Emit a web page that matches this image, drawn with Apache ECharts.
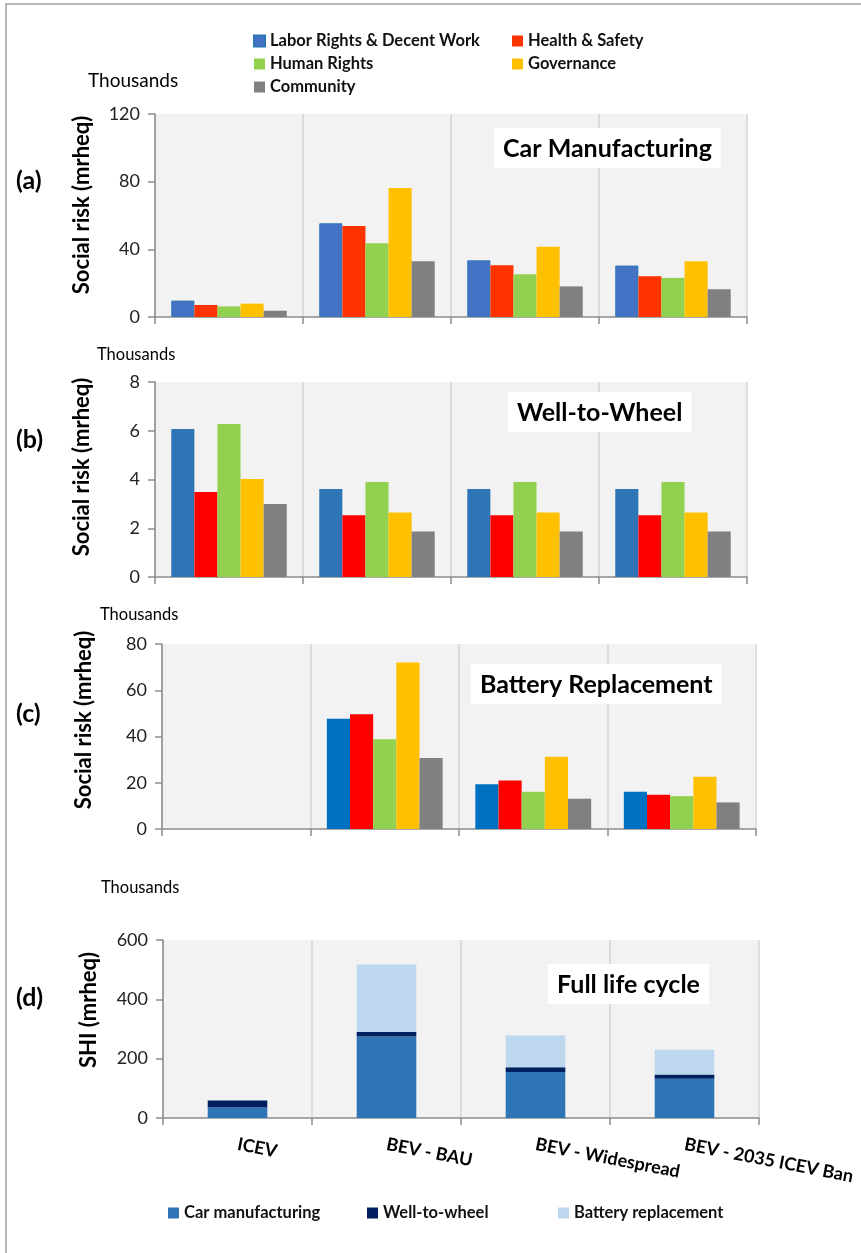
<!DOCTYPE html>
<html><head><meta charset="utf-8">
<script src="https://cdn.jsdelivr.net/npm/echarts@6/dist/echarts.min.js"></script>
<style>html,body{margin:0;padding:0;background:#fff}#c{width:861px;height:1253px}</style>
</head><body><div id="c"></div>
<script>
// ---------- data (thousands of mrheq) ----------
const categories = ['ICEV', 'BEV - BAU', 'BEV - Widespread', 'BEV - 2035 ICEV Ban'];
const indicatorNames = ['Labor Rights & Decent Work', 'Health & Safety', 'Human Rights', 'Governance', 'Community'];
const lifeNames = ['Car manufacturing', 'Well-to-wheel', 'Battery replacement'];

// (a) Car manufacturing
const carLabor     = [9.7, 55.4, 33.5, 30.4];
const carHealth    = [7.1, 53.8, 30.6, 24.1];
const carHuman     = [6.3, 43.6, 25.2, 23.1];
const carGov       = [7.9, 76.3, 41.6, 32.9];
const carCommunity = [3.7, 32.9, 18.1, 16.4];
// (b) Well-to-wheel
const wtwLabor     = [6.07, 3.61, 3.61, 3.61];
const wtwHealth    = [3.49, 2.53, 2.53, 2.53];
const wtwHuman     = [6.28, 3.90, 3.90, 3.90];
const wtwGov       = [4.02, 2.65, 2.65, 2.65];
const wtwCommunity = [3.00, 1.87, 1.87, 1.87];
// (c) Battery replacement
const batLabor     = [0, 47.7, 19.4, 16.1];
const batHealth    = [0, 49.6, 21.0, 14.8];
const batHuman     = [0, 38.8, 16.1, 14.2];
const batGov       = [0, 72.0, 31.2, 22.6];
const batCommunity = [0, 30.7, 13.1, 11.5];
// (d) Full life cycle (stacked)
const lifeCar     = [35, 275, 155, 132];
const lifeWtw     = [24, 15, 16, 15];
const lifeBattery = [0, 227, 107, 83];

// axis ranges
const axisA = {max: 120, interval: 40};
const axisB = {max: 8, interval: 2};
const axisC = {max: 80, interval: 20};
const axisD = {max: 600, interval: 200};

// ---------- styling ----------
const FONT = "Lato, 'Open Sans', sans-serif";
const colorsA = ['#4472C4', '#FF3300', '#92D050', '#FFC000', '#808080'];
const colorsB = ['#2E75B6', '#FF0000', '#92D050', '#FFC000', '#808080'];
const colorsC = ['#0070C0', '#FF0000', '#92D050', '#FFC000', '#808080'];
const colorsD = ['#2E75B6', '#002060', '#BDD7EE'];
const axisGray = '#8C8C8C';

const grids = [
  {left: 155, top: 114, width: 592, height: 203},
  {left: 155, top: 382, width: 592, height: 195},
  {left: 162, top: 644, width: 594, height: 185},
  {left: 163, top: 940, width: 596, height: 178}
].map(g => Object.assign({show: true, backgroundColor: '#F2F2F2', borderWidth: 0}, g));

const xAxes = grids.map((g, i) => ({
  type: 'category', gridIndex: i, data: categories, boundaryGap: true,
  axisLine: {lineStyle: {color: axisGray, width: 1.5}},
  axisTick: {show: true, interval: 0, length: 7, lineStyle: {color: axisGray, width: 1.5}},
  splitLine: {show: true, interval: 0, lineStyle: {color: '#D4D4D4', width: 1.5}},
  axisLabel: i === 3 ? {
    show: true, rotate: -11, margin: 26, interval: 0,
    fontFamily: FONT, fontSize: 18, fontWeight: 'bold', color: '#000'
  } : {show: false, interval: 0}
}));

const ranges = [axisA, axisB, axisC, axisD];
const yAxes = ranges.map((r, i) => ({
  type: 'value', gridIndex: i, min: 0, max: r.max, interval: r.interval,
  axisLine: {show: true, lineStyle: {color: axisGray, width: 1.5}},
  axisTick: {show: true, length: 7, lineStyle: {color: axisGray, width: 1.5}},
  splitLine: {show: false},
  axisLabel: {fontFamily: FONT, fontSize: 18, color: '#222', margin: 15}
}));

function groupSeries(axisIdx, datasets, colors, extra) {
  return datasets.map((d, k) => ({
    type: 'bar', name: indicatorNames[k], xAxisIndex: axisIdx, yAxisIndex: axisIdx,
    data: d, barGap: '0%', barCategoryGap: '22%',
    itemStyle: Object.assign({color: colors[k]}, (extra && extra[k]) || {})
  }));
}

const series = [].concat(
  groupSeries(0, [carLabor, carHealth, carHuman, carGov, carCommunity], colorsA,
    [{borderColor: '#2E75B6', borderWidth: 1}]),
  groupSeries(1, [wtwLabor, wtwHealth, wtwHuman, wtwGov, wtwCommunity], colorsB),
  groupSeries(2, [batLabor, batHealth, batHuman, batGov, batCommunity], colorsC),
  [lifeCar, lifeWtw, lifeBattery].map((d, k) => ({
    type: 'bar', name: lifeNames[k], xAxisIndex: 3, yAxisIndex: 3, stack: 'life',
    data: d, barWidth: '40%', itemStyle: {color: colorsD[k]}
  }))
);

const legendText = {fontFamily: FONT, fontSize: 16.5, fontWeight: 'bold', color: '#111', lineHeight: 20};
const legendBase = {icon: 'rect', itemWidth: 11, itemHeight: 11, padding: 0, textStyle: legendText, selectedMode: false};
const legends = [
  Object.assign({left: 253, top: 31, orient: 'vertical', itemGap: 3,
    data: [0, 2, 4].map(k => ({name: indicatorNames[k], itemStyle: {color: colorsA[k]}}))}, legendBase),
  Object.assign({left: 512, top: 31, orient: 'vertical', itemGap: 3,
    data: [1, 3].map(k => ({name: indicatorNames[k], itemStyle: {color: colorsA[k]}}))}, legendBase)
].concat([168, 367, 558].map((x, k) => Object.assign({left: x, top: 1203, orient: 'horizontal',
    data: [{name: lifeNames[k], itemStyle: {color: colorsD[k]}}]}, legendBase)));

const boxTitle = (text, left, top) => ({
  text, left, top, backgroundColor: '#fff', padding: [8, 9, 7, 9],
  textStyle: {fontFamily: FONT, fontSize: 25, fontWeight: 'bold', color: '#000'}
});
const titles = [
  boxTitle('Car Manufacturing', 494, 128),
  boxTitle('Well-to-Wheel', 508, 392),
  boxTitle('Battery Replacement', 471, 664),
  boxTitle('Full life cycle', 548, 964)
];

function txt(text, x, y, size, weight, opts) {
  return Object.assign({
    type: 'text', x, y, silent: true,
    style: {text, x: 0, y: 0, fontFamily: FONT, fontSize: size, fontWeight: weight,
      fill: '#000', align: 'left', verticalAlign: 'middle',
      textAlign: 'left', textVerticalAlign: 'middle'}
  }, opts || {});
}
function vtxt(text, x, y) {
  const t = txt(text, x, y, 22, 'bold', {rotation: Math.PI / 2});
  t.style.align = 'center'; t.style.textAlign = 'center';
  return t;
}

const graphics = [
  {type: 'rect', silent: true, z: -10,
   shape: {x: 6, y: 4, width: 1000, height: 1400},
   style: {fill: 'none', stroke: '#A0A0A0', lineWidth: 1.5}},
  txt('Thousands', 88, 81, 19, 'normal'),
  txt('Thousands', 97, 355, 16.5, 'normal'),
  txt('Thousands', 100, 615, 16.5, 'normal'),
  txt('Thousands', 101, 888, 16.5, 'normal'),
  txt('(a)', 16, 181, 25, 'bold'),
  txt('(b)', 16, 440, 25, 'bold'),
  txt('(c)', 16, 714, 25, 'bold'),
  txt('(d)', 16, 998, 25, 'bold'),
  vtxt('Social risk (mrheq)', 82, 205),
  vtxt('Social risk (mrheq)', 82, 467),
  vtxt('Social risk (mrheq)', 84, 720),
  vtxt('SHI (mrheq)', 89, 1010)
];

const chart = echarts.init(document.getElementById('c'), null, {renderer: 'canvas'});
chart.setOption({
  animation: false,
  backgroundColor: '#fff',
  title: titles,
  legend: legends,
  grid: grids,
  xAxis: xAxes,
  yAxis: yAxes,
  series: series,
  graphic: graphics
});
</script></body></html>
